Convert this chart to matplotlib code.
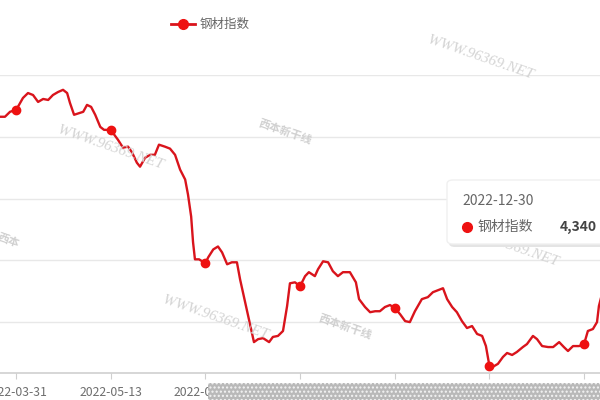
import matplotlib
matplotlib.use('Agg')
import matplotlib.pyplot as plt
from matplotlib.patches import Rectangle, FancyBboxPatch

plt.rcParams['font.family'] = ['Noto Sans CJK SC', 'DejaVu Sans']

# trading-day index (0 = 2022-03-31) and index value
trade_day = [-5.1, -3.5, -1.9, 0, 0.6, 2.2, 3.8, 5.4, 7.0, 8.6, 10.2, 11.7, 13.3, 14.9,
             16.2, 17.1, 18.4, 20.3, 21.3, 22.5, 23.8, 25.1, 26.7, 27.9, 30, 30.7,
             32.3, 33.9, 35.5, 36.8, 38.3, 39.3, 40.9, 42.5, 44.0, 45.3, 47.2, 48.8,
             50.4, 52.0, 53.6, 54.5, 55.5, 56.1, 56.7, 58.0, 60, 60.9, 62.5, 64.0,
             65.3, 66.9, 68.4, 70.0, 71.0, 72.6, 73.8, 75.4, 76.7, 78.3, 80.2, 81.4,
             83.0, 84.6, 85.9, 86.8, 88.4, 90, 91.6, 92.8, 94.7, 95.7, 97.3, 98.9,
             100.4, 102.0, 103.6, 105.8, 107.7, 108.7, 110.6, 112.2, 113.8, 115.3,
             116.9, 118.5, 120, 121.7, 123.3, 124.8, 126.4, 128.6, 130.5, 132.1,
             133.7, 135.3, 136.6, 138.2, 139.7, 141.3, 142.9, 144.5, 146.1, 147.7,
             148.9, 149.6, 150, 151.1, 152.7, 154.3, 155.6, 157.2, 158.7, 160.6,
             161.9, 163.8, 165.1, 166.7, 168.6, 170.2, 172.1, 173.6, 174.9, 176.5,
             178.4, 180, 181.2, 182.8, 184.1, 184.7, 187, 190, 195]
steel_idx = [4831, 4831, 4851, 4859, 4871, 4907, 4927, 4919, 4891, 4903, 4899, 4919, 4931, 4940,
             4927, 4887, 4839, 4847, 4851, 4879, 4871, 4839, 4790, 4778, 4778, 4766,
             4738, 4706, 4710, 4686, 4645, 4629, 4665, 4677, 4677, 4718, 4710, 4702,
             4677, 4617, 4577, 4516, 4427, 4323, 4254, 4254, 4238, 4262, 4294, 4306,
             4282, 4234, 4242, 4242, 4173, 4081, 4012, 3919, 3931, 3935, 3919, 3940,
             3944, 3964, 4065, 4157, 4161, 4145, 4186, 4202, 4186, 4214, 4246, 4242,
             4206, 4186, 4202, 4202, 4161, 4093, 4061, 4040, 4044, 4044,
             4061, 4069, 4057, 4032, 4004, 4000, 4044, 4093, 4101, 4121,
             4129, 4137, 4093, 4061, 4040, 4004, 3976, 3984, 3952, 3944,
             3903, 3851, 3823, 3819, 3831, 3859, 3875, 3867, 3879, 3899,
             3911, 3944, 3931, 3903, 3899, 3899, 3919, 3899, 3883, 3903,
             3903, 3911, 3964, 3972, 4000, 4065, 4180, 4260, 4340]

tick_days = [0, 30, 60, 90, 120, 150, 180]
tick_labels = ['2022-03-31', '2022-05-13', '2022-06-24', '2022-08-04',
               '2022-09-15', '2022-10-31', '2022-12-12']
y_grid = [4000, 4250, 4500, 4750, 5000]

W, H = 600, 400
fig = plt.figure(figsize=(6, 4), dpi=100)
fig.patch.set_facecolor('white')

def fx(px):
    return px / W

def fy(py):
    return 1 - py / H

# plot area: top at y=75px (5000), bottom at 373px; x runs past both figure edges
ax = fig.add_axes([0, fy(373), 1, (373 - 75) / H])
ax.set_xlim(-16 / 3.156, 584 / 3.156)
ax.set_ylim(3794, 5000)

for v in y_grid:
    ax.axhline(v, color='#e8e8e8', lw=1, zorder=1)

red = '#d9141c'
marks = [k for k, d in enumerate(trade_day) if d in tick_days]
ax.plot(trade_day, steel_idx, color=red, lw=1.7, zorder=3,
        marker='o', markevery=marks, ms=6, mfc='#ee1111', mec='#ee1111')

for s in ['top', 'right', 'left']:
    ax.spines[s].set_visible(False)
ax.spines['bottom'].set_color('#cfcfcf')
ax.spines['bottom'].set_linewidth(1.2)
ax.set_yticks([])
ax.set_xticks(tick_days)
ax.set_xticklabels(tick_labels, fontsize=8.8, color='#6e6e6e')
ax.tick_params(axis='x', length=4, color='#cfcfcf', pad=5)

# watermarks
wm = dict(color='#d4d4d4', rotation=-19, fontsize=11, style='italic',
          family='Liberation Serif', ha='center', va='center', zorder=0)
fig.text(fx(480), fy(58), 'WWW.96369.NET', **wm)
fig.text(fx(110), fy(148), 'WWW.96369.NET', **wm)
fig.text(fx(215), fy(318), 'WWW.96369.NET', **wm)
fig.text(fx(505), fy(245), 'WWW.96369.NET', **wm)
lg = dict(color='#d0d0d0', rotation=-19, fontsize=8, weight='bold',
          ha='center', va='center', zorder=0)
fig.text(fx(285), fy(132), '西本新干线', **lg)
fig.text(fx(345), fy(327), '西本新干线', **lg)
fig.text(fx(8), fy(240), '西本', **lg)

# legend
fig.add_artist(plt.Line2D([fx(171), fx(195)], [fy(24), fy(24)], color=red, lw=2,
                          transform=fig.transFigure))
fig.add_artist(plt.Line2D([fx(183)], [fy(24)], marker='o', ms=7, color='#ee1111',
                          transform=fig.transFigure))
fig.text(fx(200), fy(24), '钢材指数', fontsize=9, color='#666666', va='center')

# tooltip
shadow = FancyBboxPatch((fx(449), fy(247)), fx(170), (247 - 180) / H,
                        boxstyle='round,pad=0,rounding_size=0.01',
                        transform=fig.transFigure, fc='#e4e4e4', ec='none', zorder=5)
box = FancyBboxPatch((fx(447), fy(244)), fx(170), (244 - 180) / H,
                     boxstyle='round,pad=0,rounding_size=0.01',
                     transform=fig.transFigure, fc='white', ec='#f0f0f0', lw=1, zorder=6)
fig.add_artist(shadow)
fig.add_artist(box)
fig.text(fx(462), fy(201), '2022-12-30', fontsize=10, color='#666666', va='center', zorder=7)
fig.add_artist(plt.Line2D([fx(467)], [fy(227)], marker='o', ms=7, color='#ee1111',
                          transform=fig.transFigure, zorder=7))
fig.text(fx(478), fy(227), '钢材指数', fontsize=10, color='#666666', va='center', zorder=7)
fig.text(fx(560), fy(227), '4,340', fontsize=10, color='#444444', weight='bold',
         va='center', zorder=7)

# dotted gray strip at the bottom
strip = Rectangle((fx(208), 0), fx(400), 17 / H, transform=fig.transFigure,
                  fc='#b9b9b9', ec='#f4f4f4', lw=0, hatch='....', zorder=8)
fig.add_artist(strip)

fig.savefig('out.png', dpi=100)
